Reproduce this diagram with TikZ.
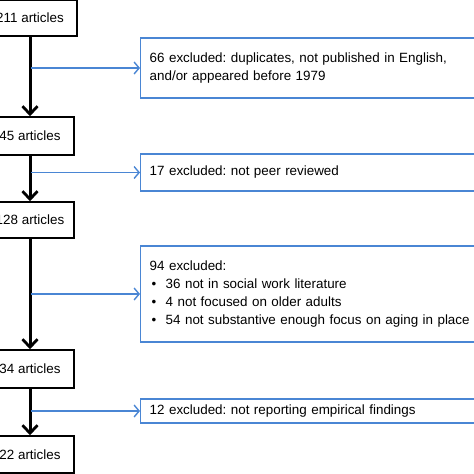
\documentclass[tikz,border=0pt]{standalone}
\usepackage{fontspec}
\setmainfont{Liberation Sans}
\usetikzlibrary{arrows.meta}
\definecolor{flowblue}{RGB}{74,134,212}
\tikzset{
  artbox/.style={draw=black, line width=1.5pt, fill=white, inner sep=0pt, align=center},
  exbox/.style={draw=flowblue, line width=1.4pt, fill=white, anchor=west, inner xsep=9pt, inner ysep=0pt, align=left, text width=332pt},
  mainarrow/.style={line width=3pt, -{Straight Barb[length=8pt,width=15pt,line width=2.8pt]}},
  exarrow/.style={draw=flowblue, line width=1.4pt, -{Straight Barb[length=5pt,width=12pt,line width=1.4pt]}},
}
\begin{document}
\begin{tikzpicture}[x=1pt,y=1pt,font=\fontsize{13.4}{18}\selectfont\frenchspacing]
\useasboundingbox (0,0) rectangle (474,-474);
\clip (0,0) rectangle (474,-474);
\fill[white] (0,0) rectangle (474,-474);
% left boxes
\node[artbox, minimum width=94pt, minimum height=36pt] (b1) at (30,-18) {211 articles};
\node[artbox, minimum width=88pt, minimum height=38pt] (b2) at (30,-136) {45 articles};
\node[artbox, minimum width=88pt, minimum height=36pt] (b3) at (30,-220) {128 articles};
\node[artbox, minimum width=88pt, minimum height=38pt] (b4) at (30,-369) {34 articles};
\node[artbox, minimum width=88pt, minimum height=37pt] (b5) at (30,-454.5) {22 articles};
% exclusion boxes
\node[exbox, minimum height=60pt] (e1) at (140,-68) {66 excluded: duplicates, not published in English,\\and/or appeared before 1979};
\node[exbox, minimum height=37pt] (e2) at (140,-172.5) {17 excluded: not peer reviewed};
\node[exbox, minimum height=96pt] (e3) at (140,-294) {94 excluded:\\
\makebox[16pt][l]{\hspace{2pt}•}36 not in social work literature\\
\makebox[16pt][l]{\hspace{2pt}•}4 not focused on older adults\\
\makebox[16pt][l]{\hspace{2pt}•}54 not substantive enough focus on aging in place};
\node[exbox, minimum height=24pt] (e4) at (140,-411) {12 excluded: not reporting empirical findings};
% main arrows
\draw[mainarrow] (b1.south) -- (b2.north);
\draw[mainarrow] (b2.south) -- (b3.north);
\draw[mainarrow] (b3.south) -- (b4.north);
\draw[mainarrow] (b4.south) -- (b5.north);
% branch points
\coordinate (c1) at (31,-68);
\coordinate (c2) at (31,-172.5);
\coordinate (c3) at (31,-294);
\coordinate (c4) at (31,-411);
\draw[exarrow] (c1) -- (e1.west);
\draw[exarrow] (c2) -- (e2.west);
\draw[exarrow] (c3) -- (e3.west);
\draw[exarrow] (c4) -- (e4.west);
\end{tikzpicture}
\end{document}
